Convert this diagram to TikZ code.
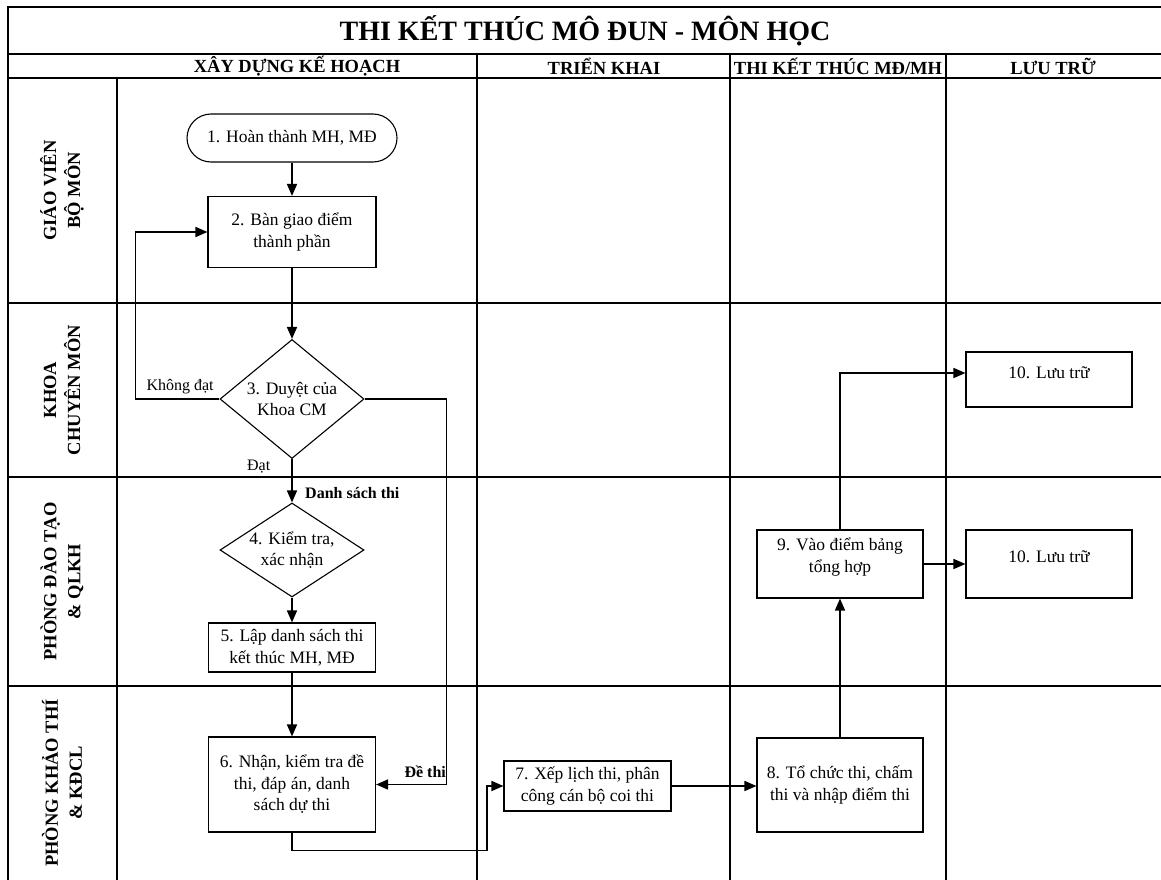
\documentclass[tikz,border=0pt]{standalone}
\usepackage{fontspec}
\setmainfont{Liberation Serif}
\usetikzlibrary{arrows.meta}
\usetikzlibrary{shapes.geometric}

\begin{document}
\begin{tikzpicture}[x=1pt, y=-1pt,
  >={Triangle[length=12pt,width=10pt]},
  grid/.style={line width=1.3pt},
  txt/.style={align=center, inner sep=0pt, font=\fontsize{17.5}{21.5}\selectfont},
  box/.style={draw, line width=1.1pt, txt},
  decision/.style={diamond, draw, line width=1.1pt, txt, minimum width=144pt},
  head/.style={font=\bfseries\fontsize{18.5}{22}\selectfont, inner sep=0pt},
  lane/.style={head, align=center, rotate=90, font=\bfseries\fontsize{18.5}{24}\selectfont},
  lbl/.style={inner sep=0pt, font=\fontsize{16}{19}\selectfont},
  flow/.style={->, line width=1.6pt}]
\useasboundingbox (0,0) rectangle (1161,880);

% khung bang
\draw[grid] (8,880) -- (8,7) -- (1162,7);
\foreach \y in {54,78,303,477,686}
  \draw[grid] (8,\y) -- (1162,\y);
\draw[grid] (117,78) -- (117,880);
\foreach \x in {477,730,946}
  \draw[grid] (\x,54) -- (\x,880);

% tieu de va cot
\node[font=\bfseries\fontsize{28}{33}\selectfont] (title) at (585,31) {THI KẾT THÚC MÔ ĐUN - MÔN HỌC};
\node[head] (c1) at (297,66) {XÂY DỰNG KẾ HOẠCH};
\node[head] (c2) at (604,66) {TRIỂN KHAI};
\node[head] (c3) at (838,66) {THI KẾT THÚC MĐ/MH};
\node[head] (c4) at (1053,66) {LƯU TRỮ};

% hang
\node[lane] (r1) at (62,190.5) {GIÁO VIÊN\\BỘ MÔN};
\node[lane] (r2) at (62,390) {KHOA\\CHUYÊN MÔN};
\node[lane] (r3) at (62,581.5) {PHÒNG ĐÀO TẠO\\\& QLKH};
\node[lane] (r4) at (62,783) {PHÒNG KHẢO THÍ\\\& KĐCL};

% cac buoc
\node[box, rounded corners=24pt, minimum width=210pt, minimum height=48pt] (A) at (292,138) {1. Hoàn thành MH, MĐ};
\node[box, minimum width=168pt, minimum height=71pt] (B) at (292,232) {2. Bàn giao điểm\\thành phần};
\node[decision, minimum height=119pt, aspect=1.2] (C) at (292,399) {3. Duyệt của\\Khoa CM};
\node[decision, minimum height=94pt, aspect=1.55] (D) at (292,550) {4. Kiểm tra,\\xác nhận};
\node[box, minimum width=167pt, minimum height=49pt] (E) at (292,647.5) {5. Lập danh sách thi\\kết thúc MH, MĐ};
\node[box, minimum width=167pt, minimum height=95pt] (F) at (292,784.5) {6. Nhận, kiểm tra đề\\thi, đáp án, danh\\sách dự thi};
\node[box, minimum width=167pt, minimum height=50pt] (G) at (587.5,786) {7. Xếp lịch thi, phân\\công cán bộ coi thi};
\node[box, minimum width=166pt, minimum height=94pt] (H) at (840,785) {8. Tổ chức thi, chấm\\thi và nhập điểm thi};
\node[box, minimum width=166pt, minimum height=68pt,
  label={[txt, yshift=7pt]center:{9. Vào điểm bảng\\tổng hợp}}] (I) at (840,564) {};
\node[box, minimum width=166pt, minimum height=55pt,
  label={[txt, yshift=7pt]center:{10. Lưu trữ}}] (J) at (1049,379.5) {};
\node[box, minimum width=166pt, minimum height=68pt,
  label={[txt, yshift=7pt]center:{10. Lưu trữ}}] (K) at (1049,564) {};

% luong
\draw[flow] (A) -- (B);
\draw[flow] (B) -- (C);
\draw[flow] (C.west) node[lbl, anchor=base east, xshift=-5pt, yshift=9pt] {Không đạt}
  -- ++(-84,0) |- (B.west);
\draw[flow] (C.south) node[lbl, anchor=base east, xshift=-21pt, yshift=-11pt] {Đạt} -- (D.north);
\node[lbl, font=\bfseries\fontsize{16}{19}\selectfont, anchor=west] at ([xshift=13pt, yshift=9pt]D.north) {Danh sách thi};
\draw[flow] (C.east) -- ++(82,0) |- (F.east);
\node[lbl, font=\bfseries\fontsize{16}{19}\selectfont, anchor=base east] at ([xshift=70pt, yshift=7pt]F.east) {Đề thi};
\draw[flow] (D) -- (E);
\draw[flow] (E) -- (F);
\draw[flow] (F.south) -- ++(0,18) -- ++(195,0) |- (G.west);
\draw[flow] (G.east) -- (G.east -| H.west);
\draw[flow] (H) -- (I);
\draw[flow] (I.north) |- ([yshift=6.5pt]J.west);
\draw[flow] (I) -- (K);
\end{tikzpicture}
\end{document}
